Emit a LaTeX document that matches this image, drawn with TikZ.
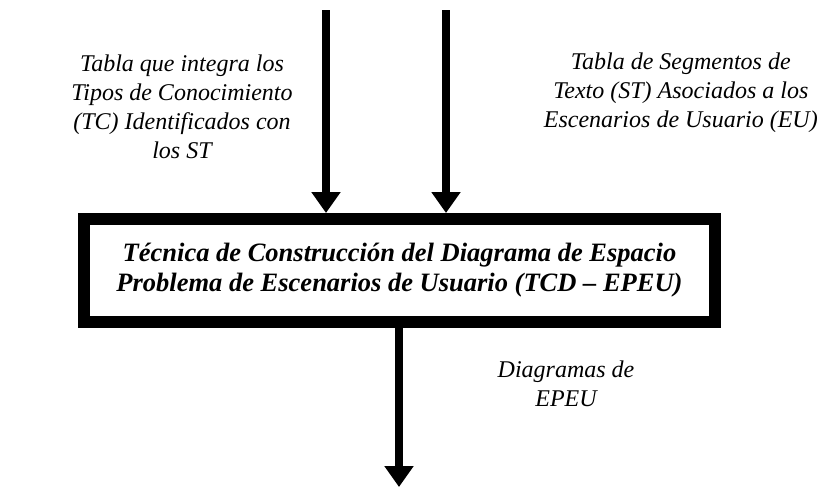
\documentclass[tikz,border=0pt]{standalone}
\usepackage{fontspec}
\setmainfont{Liberation Serif}
\usetikzlibrary{arrows.meta}
\tikzset{
  flow/.style={line width=8pt, -{Triangle[length=21pt,width=28pt]}},
  tecbox/.style={draw, line width=12pt, minimum width=631pt, minimum height=103pt,
    align=center, inner sep=0pt, font=\fontsize{26.5}{30}\selectfont\bfseries\itshape},
  etiq/.style={align=center, inner sep=0pt, font=\fontsize{24}{29}\selectfont\itshape}
}
\begin{document}
\begin{tikzpicture}[x=1pt,y=-1pt]
  \useasboundingbox (0,0) rectangle (822,488);

  \node[tecbox] (tcd) at (399.5,270.5) {Técnica de Construcción del Diagrama de Espacio\\Problema de Escenarios de Usuario (TCD – EPEU)};

  \coordinate (inTC) at (326,10);
  \coordinate (inST) at (446,10);
  \coordinate (outD) at (399,487);

  \draw[flow] (inTC) -- (inTC |- tcd.north);
  \draw[flow] (inST) -- (inST |- tcd.north);
  \draw[flow] (tcd.south -| outD) -- (outD);

  \node[etiq] (tablaTC) at (182,107) {Tabla que integra los\\Tipos de Conocimiento\\(TC) Identificados con\\los ST};
  \node[etiq, anchor=east] (tablaST) at (818,93) {Tabla de Segmentos de\\Texto (ST) Asociados a los\\Escenarios de Usuario (EU)};
  \node[etiq] (diagEPEU) at (566,384) {Diagramas de\\EPEU};
\end{tikzpicture}
\end{document}
